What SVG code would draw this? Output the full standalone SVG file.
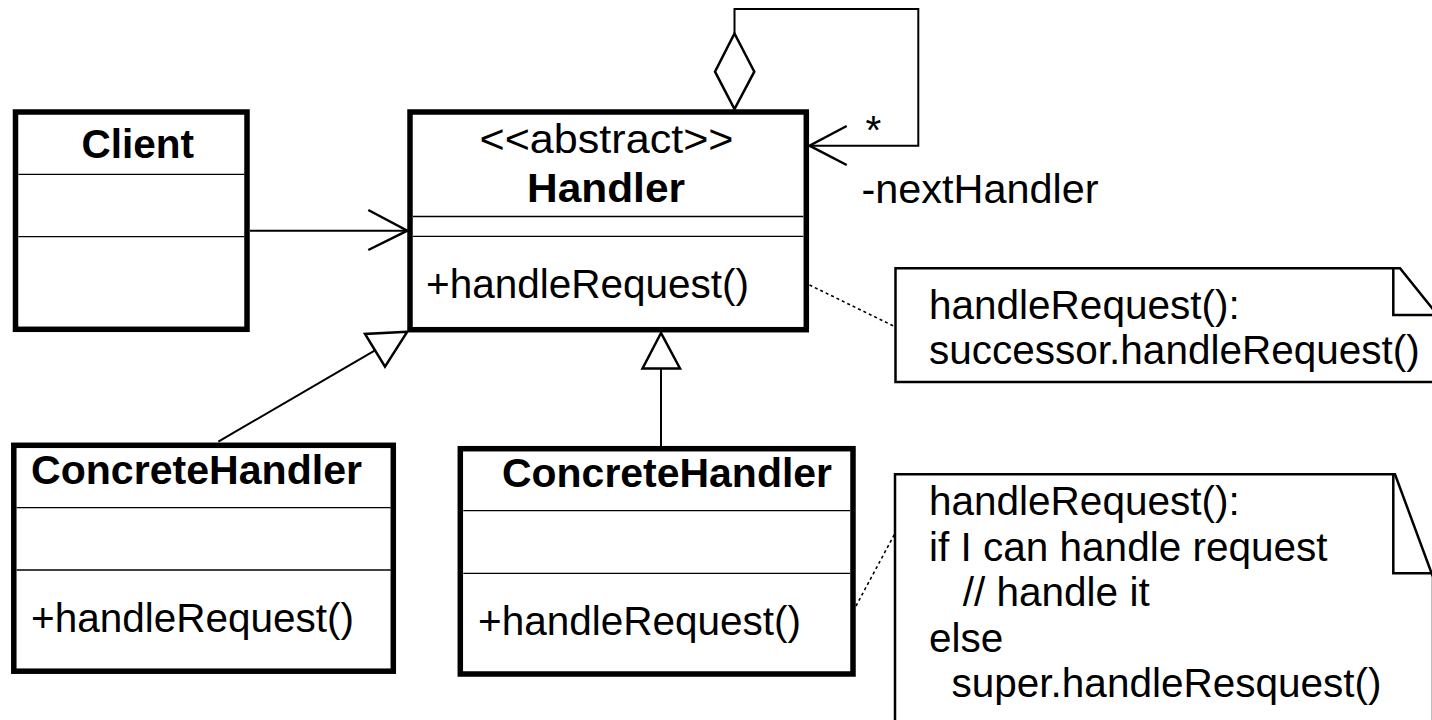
<svg xmlns="http://www.w3.org/2000/svg" width="1432" height="720" viewBox="0 0 1432 720">
  <style>
    text { font-family: "Liberation Sans", Arial, sans-serif; font-size: 40.5px; fill: #000; }
    .b { font-weight: bold; }
    .box { fill: #fff; stroke: #000; stroke-width: 5.5; }
    .sep { stroke: #000; stroke-width: 1.3; }
    .ln { fill: none; stroke: #000; stroke-width: 2; }
    .fold { fill: none; stroke: #000; stroke-width: 2.5; }
    .head { fill: none; stroke: #000; stroke-width: 2.5; stroke-linejoin: miter; }
    .tri { fill: #fff; stroke: #000; stroke-width: 2.5; stroke-linejoin: miter; }
    .note { fill: #fff; stroke: #000; stroke-width: 2.5; }
    .dot { fill: none; stroke: #000; stroke-width: 1.6; stroke-dasharray: 3 3; }
  </style>
  <rect width="1432" height="720" fill="#fff"/>

  <!-- connectors -->
  <g id="connectors">
    <!-- Client -> Handler association -->
    <line class="ln" x1="250" y1="230.7" x2="406" y2="230.7"/>
    <polyline class="head" points="368.3,210 407.3,230.7 368.3,250"/>

    <!-- self aggregation: nextHandler -->
    <polyline class="ln" points="734.5,33 734.5,9 918.3,9 918.3,145.7 810,145.7"/>
    <polygon class="tri" points="734.5,33.5 754.3,71.7 734.5,109 715,71.7"/>
    <polyline class="head" points="846.7,126 809.5,145.7 846.7,165"/>

    <!-- left ConcreteHandler generalization -->
    <line class="ln" x1="218.3" y1="441.7" x2="375" y2="350.3"/>
    <polygon class="tri" points="407.3,331.7 365,334 385,366.7"/>

    <!-- middle ConcreteHandler generalization -->
    <line class="ln" x1="661" y1="368.5" x2="661" y2="446"/>
    <polygon class="tri" points="661,333 642.5,368.5 680,368.5"/>

    <!-- note links -->
    <line class="dot" x1="809.5" y1="285" x2="895" y2="326.7"/>
    <line class="dot" x1="856" y1="606" x2="895" y2="533.3"/>
  </g>

  <!-- Client -->
  <g id="client">
    <rect class="box" x="15.5" y="112" width="231.5" height="217.3"/>
    <line class="sep" x1="18.3" y1="174.3" x2="244.3" y2="174.3"/>
    <line class="sep" x1="18.3" y1="236.7" x2="244.3" y2="236.7"/>
    <text class="b" x="81.5" y="158.3">Client</text>
  </g>

  <!-- Handler -->
  <g id="handler">
    <rect class="box" x="410" y="112" width="396.3" height="217.7"/>
    <line class="sep" x1="413" y1="216.5" x2="803.3" y2="216.5"/>
    <line class="sep" x1="413" y1="236.3" x2="803.3" y2="236.3"/>
    <text x="479.5" y="153.3" textLength="254" lengthAdjust="spacingAndGlyphs">&lt;&lt;abstract&gt;&gt;</text>
    <text class="b" x="527" y="201.7" textLength="158" lengthAdjust="spacingAndGlyphs">Handler</text>
    <text x="426" y="298.3">+handleRequest()</text>
  </g>

  <!-- multiplicity and role -->
  <g id="labels">
    <text x="865.5" y="144">*</text>
    <text x="861.5" y="203" textLength="237" lengthAdjust="spacingAndGlyphs">-nextHandler</text>
  </g>

  <!-- ConcreteHandler (left) -->
  <g id="concrete-left">
    <rect class="box" x="13.8" y="445.3" width="379.5" height="225.9"/>
    <line class="sep" x1="16.7" y1="507.7" x2="390.7" y2="507.7"/>
    <line class="sep" x1="16.7" y1="570" x2="390.7" y2="570"/>
    <text class="b" x="31" y="484" textLength="331" lengthAdjust="spacingAndGlyphs">ConcreteHandler</text>
    <text x="31" y="631.7">+handleRequest()</text>
  </g>

  <!-- ConcreteHandler (middle) -->
  <g id="concrete-middle">
    <rect class="box" x="460.3" y="448.7" width="392.7" height="225.3"/>
    <line class="sep" x1="463.3" y1="510.7" x2="850" y2="510.7"/>
    <line class="sep" x1="463.3" y1="573.3" x2="850" y2="573.3"/>
    <text class="b" x="502" y="486.7" textLength="330" lengthAdjust="spacingAndGlyphs">ConcreteHandler</text>
    <text x="478" y="635">+handleRequest()</text>
  </g>

  <!-- note on Handler.handleRequest -->
  <g id="note-handler">
    <polygon class="note" points="895.5,268.3 1400,268.3 1440,318 1440,382 895.5,382"/>
    <polyline class="fold" points="1393.3,268.3 1393.3,315 1440,315"/>
    <text x="929" y="319">handleRequest():</text>
    <text x="929" y="364">successor.handleRequest()</text>
  </g>

  <!-- note on ConcreteHandler.handleRequest -->
  <g id="note-concrete">
    <polygon class="note" points="895,474.3 1395,474.3 1433,577 1433,730 895,730"/>
    <polyline class="fold" points="1393.3,474.3 1393.3,573.3 1436,573.3"/>
    <text x="929" y="515">handleRequest():</text>
    <text x="929" y="560.5">if I can handle request</text>
    <text x="929" y="606.3" xml:space="preserve">   // handle it</text>
    <text x="929" y="651.7">else</text>
    <text x="929" y="697" xml:space="preserve">  super.handleResquest()</text>
  </g>
</svg>
